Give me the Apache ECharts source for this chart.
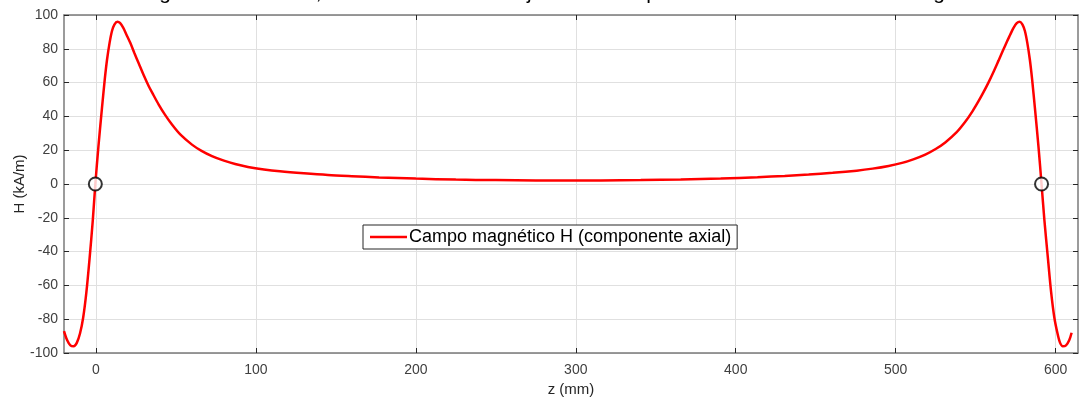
<!DOCTYPE html>
<html>
<head>
<meta charset="utf-8">
<script src="https://cdn.jsdelivr.net/npm/echarts@6/dist/echarts.min.js"></script>
<style>
html, body { margin: 0; padding: 0; background: #fff; }
#chart { width: 1081px; height: 399px; }
</style>
</head>
<body>
<div id="chart"></div>
<script>
// z (mm) y H (kA/m)
var zVals = [-20, -18, -16, -14, -12, -10, -8, -6, -4, -2, -0.4, 1.5, 3.75, 5.5, 6.9, 8.5, 10, 11.5, 13.4,
    15, 17, 19, 21.5, 24, 26.7, 30, 33, 36, 39.2, 43, 47.5, 53, 60, 66, 72.5, 80, 87, 95, 105, 115,
    130, 145, 160, 177, 200, 225, 250, 275, 295, 315.6, 340.6, 365.6, 390.6, 413.6, 430.6, 445.6,
    460.6, 475.6, 485.6, 495.6, 504, 511, 518.5, 525, 531, 538, 543.5, 548, 551.8, 555, 558, 561,
    564.3, 567, 569.6, 571.6, 573.6, 575.7, 577.6, 579.3, 580.8, 582.3, 583.9, 585.3, 587.05, 589.3,
    591.2, 593, 595.2, 597.2, 599.2, 601.2, 602.8, 604.5, 606.5, 608.5, 610];
var hVals = [-87, -92.5, -95.5, -96, -94, -88.5, -79, -64, -44, -21.5, 0, 22, 45, 62, 73.5, 83.5, 90.5, 94.3, 96,
    95.3, 92.5, 88.5, 83.4, 77.5, 71.4, 64, 57.8, 52.5, 47, 41.2, 35.2, 29, 23.3, 19.6, 16.5, 13.8, 11.8, 10.1, 8.6, 7.5,
    6.3, 5.3, 4.6, 3.9, 3.2, 2.6, 2.3, 2.1, 2.05, 2.1, 2.3, 2.7, 3.3, 4.0, 4.8, 5.6,
    6.6, 7.9, 9.1, 10.7, 12.5, 14.6, 17.4, 20.7, 24.6, 30.5, 36.8, 43, 49, 54.5, 60, 66,
    73, 78.8, 84.3, 88.3, 92.3, 95.2, 96, 94.3, 90.5, 83.5, 73.5, 62, 45, 22,
    0, -21.5, -44, -64, -79, -88.5, -94, -96, -95.5, -92.5, -88];
// extremos de la bobina
var bordesZ = [-0.4, 591.2];
var bordesH = [0, 0];
var xTicks = [0, 100, 200, 300, 400, 500, 600];

var titulo = 'Longitud de 590 mm, usando la mitad del ajuste de campo con el modelo de bobina larga';
var nombre = 'Campo magnético H (componente axial)';

var myChart = echarts.init(document.getElementById('chart'));

var linea = [];
for (var i = 0; i < zVals.length; i++) linea.push([zVals[i], hVals[i]]);
var puntos = [];
for (var j = 0; j < bordesZ.length; j++) puntos.push([bordesZ[j], bordesH[j]]);

var ejeColor = '#7a7a7a';
var fuente = 'Liberation Sans, Arial, sans-serif';

var option = {
    animation: false,
    backgroundColor: '#fff',
    title: {
        text: titulo,
        left: 'center',
        top: -22,
        textStyle: { fontSize: 21, fontWeight: 'normal', color: '#000', fontFamily: fuente }
    },
    legend: {
        data: [{ name: nombre, icon: 'rect' }],
        left: 363,
        top: 225,
        orient: 'vertical',
        backgroundColor: '#fff',
        borderColor: '#262626',
        borderWidth: 1,
        borderRadius: 0,
        padding: [3, 6, 3, 7],
        itemWidth: 37,
        itemHeight: 2.5,
        textStyle: { fontSize: 18, color: '#000', fontFamily: fuente, padding: [0, 0, 0, -3] }
    },
    grid: { left: 64, right: 3, top: 15, bottom: 46, outerBoundsMode: 'none' },
    xAxis: [{
        type: 'value',
        min: -20,
        max: 614,
        name: 'z (mm)',
        nameLocation: 'middle',
        nameGap: 29,
        nameMoveOverlap: false,
        nameTextStyle: { fontSize: 15, color: '#262626', fontFamily: fuente },
        axisLine: { show: true, onZero: false, lineStyle: { color: ejeColor, width: 1.5 } },
        axisTick: { show: true, inside: true, length: 5, customValues: xTicks, lineStyle: { color: '#262626' } },
        axisLabel: { customValues: xTicks, fontSize: 14, color: '#404040', fontFamily: fuente, margin: 10 },
        splitLine: { show: true, customValues: xTicks, lineStyle: { color: '#e0e0e0', width: 1 } }
    }, {
        type: 'value',
        position: 'top',
        min: -20,
        max: 614,
        axisLine: { show: true, onZero: false, lineStyle: { color: ejeColor, width: 1.5 } },
        axisTick: { show: true, inside: true, length: 5, customValues: xTicks, lineStyle: { color: '#262626' } },
        axisLabel: { show: false },
        splitLine: { show: false }
    }],
    yAxis: [{
        type: 'value',
        min: -100,
        max: 100,
        interval: 20,
        name: 'H (kA/m)',
        nameLocation: 'middle',
        nameGap: 37,
        nameMoveOverlap: false,
        nameTextStyle: { fontSize: 15, color: '#262626', fontFamily: fuente },
        axisLine: { show: true, onZero: false, lineStyle: { color: ejeColor, width: 1.5 } },
        axisTick: { show: true, inside: true, length: 5, lineStyle: { color: '#262626' } },
        axisLabel: { fontSize: 14, color: '#404040', fontFamily: fuente, margin: 6 },
        splitLine: { show: true, lineStyle: { color: '#e0e0e0', width: 1 } }
    }, {
        type: 'value',
        position: 'right',
        min: -100,
        max: 100,
        interval: 20,
        axisLine: { show: true, onZero: false, lineStyle: { color: ejeColor, width: 1.5 } },
        axisTick: { show: true, inside: true, length: 5, lineStyle: { color: '#262626' } },
        axisLabel: { show: false },
        splitLine: { show: false }
    }],
    series: [{
        name: nombre,
        type: 'line',
        data: linea,
        symbol: 'none',
        smooth: 0.3,
        lineStyle: { color: '#ff0000', width: 2.5 },
        itemStyle: { color: '#ff0000' },
        z: 3
    }, {
        name: 'bordes',
        type: 'scatter',
        data: puntos,
        symbol: 'circle',
        symbolSize: 13,
        itemStyle: { color: '#fff', borderColor: '#000', borderWidth: 2 },
        z: 4
    }]
};

myChart.setOption(option);
</script>
</body>
</html>
